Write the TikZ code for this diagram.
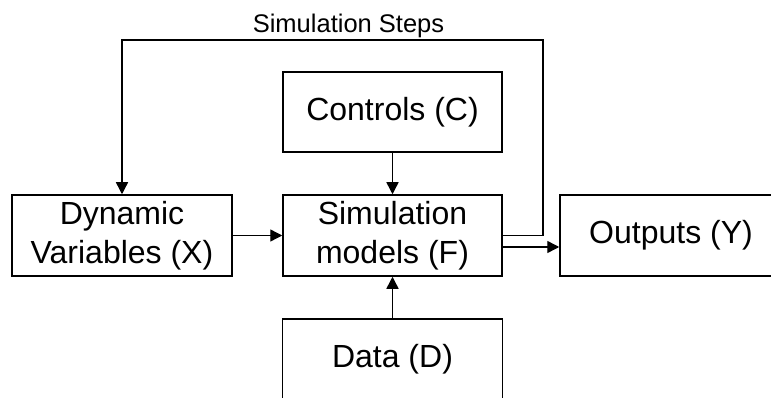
\documentclass[tikz,border=0pt]{standalone}
\usepackage{fontspec}
\setmainfont{Liberation Sans}
\usetikzlibrary{arrows.meta}
\begin{document}
\begin{tikzpicture}[x=1pt,y=-1pt,
  box/.style={draw,line width=1.5pt,minimum width=220pt,minimum height=81pt,inner sep=0pt,align=center,font=\fontsize{32}{38.5}\selectfont},
  arr/.style={line width=1.4pt,-{Triangle[length=12pt,width=12pt]}},
  lbl/.style={font=\fontsize{25.5}{30}\selectfont,inner sep=0pt}]
\useasboundingbox (0,0) rectangle (771,398);
\node[box] (X) at (122,235.5) {Dynamic\\Variables (X)};
\node[box,minimum width=219pt] (F) at (392.5,235.5) {Simulation\\models (F)};
\node[box,minimum width=219pt,minimum height=80pt] (C) at (392.5,112) {Controls (C)};
\node[box,minimum width=222pt] (O) at (671,235.5) {Outputs (Y)};
\node[box] (D) at (392.5,359.5) {Data (D)};
\coordinate (tr) at (543,40);
\node[lbl,anchor=base] (S) at (348.5,33) {Simulation Steps};
\draw[arr] (X) -- (F);
\draw[arr] (C) -- (F);
\draw[arr] (D) -- (F);
\draw[arr] (F.east) -| (tr) -| (X.north);
\draw[arr] ([yshift=-11.5pt]F.east) -- ([yshift=-11.5pt]O.west);
\end{tikzpicture}
\end{document}
